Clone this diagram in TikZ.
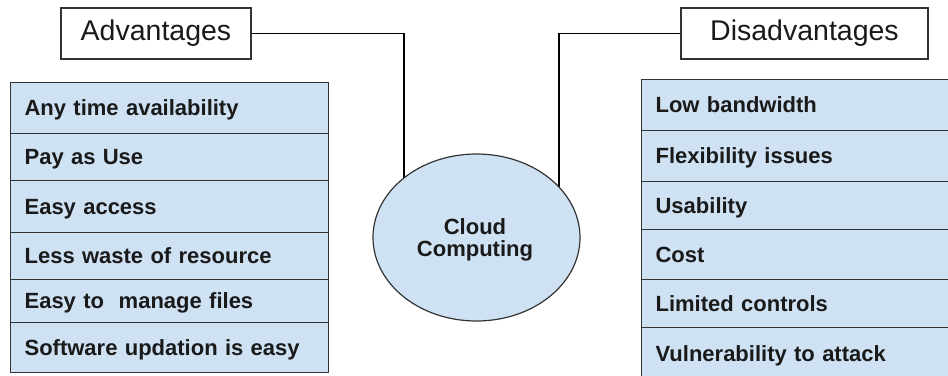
\documentclass[tikz,border=0pt]{standalone}
\usepackage{fontspec}
\setmainfont{Liberation Sans}
\usetikzlibrary{shapes.geometric,backgrounds}
\definecolor{rowfill}{HTML}{CFE2F3}
\definecolor{edge}{HTML}{333333}
\definecolor{ink}{HTML}{1A1A1A}

\begin{document}
\begin{tikzpicture}[x=1pt,y=-1pt,
  rowleft/.style={draw=edge, line width=1.2pt, fill=rowfill, anchor=north west,
    inner xsep=14pt, inner ysep=0pt, text width=290pt, align=left,
    font=\fontsize{22}{24}\selectfont\bfseries, text=ink,
    text height=19pt, text depth=4pt},
  rowright/.style={rowleft, text width=291pt},
  headbox/.style={draw=edge, line width=1.2pt, fill=white, inner sep=0pt,
    font=\fontsize{28.5}{30}\selectfont, text=ink},
  hub/.style={ellipse, draw=edge, line width=1.2pt, fill=rowfill, inner sep=0pt,
    minimum width=207pt, minimum height=167pt},
  hubtext/.style={align=center, font=\fontsize{22}{22.5}\selectfont\bfseries, text=ink},
  link/.style={draw=black, line width=1.2pt}]

\useasboundingbox (0,0) rectangle (948,375);
\clip (0,0) rectangle (948,375);

% header boxes
\node[headbox, minimum width=190pt, minimum height=51pt] (adv) at (156,33.5) {Advantages};
\node[headbox, minimum width=247pt, minimum height=51pt] (dis) at (804.5,33.5) {Disadvantages};

% central ellipse and its label
\node[hub] (cc) at (476.5,237.5) {};
\node[hubtext] (cclabel) at (475,240) {Cloud\\Computing};

% advantages list
\node[rowleft, minimum height=51pt] (a1) at (10,82)  {Any time availability};
\node[rowleft, minimum height=47pt] (a2) at (10,133) {Pay as Use};
\node[rowleft, minimum height=52pt] (a3) at (10,180) {Easy access};
\node[rowleft, minimum height=47pt] (a4) at (10,232) {Less waste of resource};
\node[rowleft, minimum height=43pt] (a5) at (10,279) {Easy to\ \ manage files};
\node[rowleft, minimum height=50pt] (a6) at (10,322) {Software updation is easy};

% disadvantages list
\node[rowright, minimum height=51pt] (d1) at (641,79)  {Low bandwidth};
\node[rowright, minimum height=51pt] (d2) at (641,130) {Flexibility issues};
\node[rowright, minimum height=48pt] (d3) at (641,181) {Usability};
\node[rowright, minimum height=50pt] (d4) at (641,229) {Cost};
\node[rowright, minimum height=48pt] (d5) at (641,279) {Limited controls};
\node[rowright, minimum height=52pt] (d6) at (641,327) {Vulnerability to attack};

% connectors, tucked behind the ellipse
\coordinate (lk) at (404,237);
\coordinate (rk) at (559,237);
\begin{pgfonlayer}{background}
  \draw[link] (adv.east) -| (lk);
  \draw[link] (dis.west) -| (rk);
\end{pgfonlayer}
\end{tikzpicture}
\end{document}
